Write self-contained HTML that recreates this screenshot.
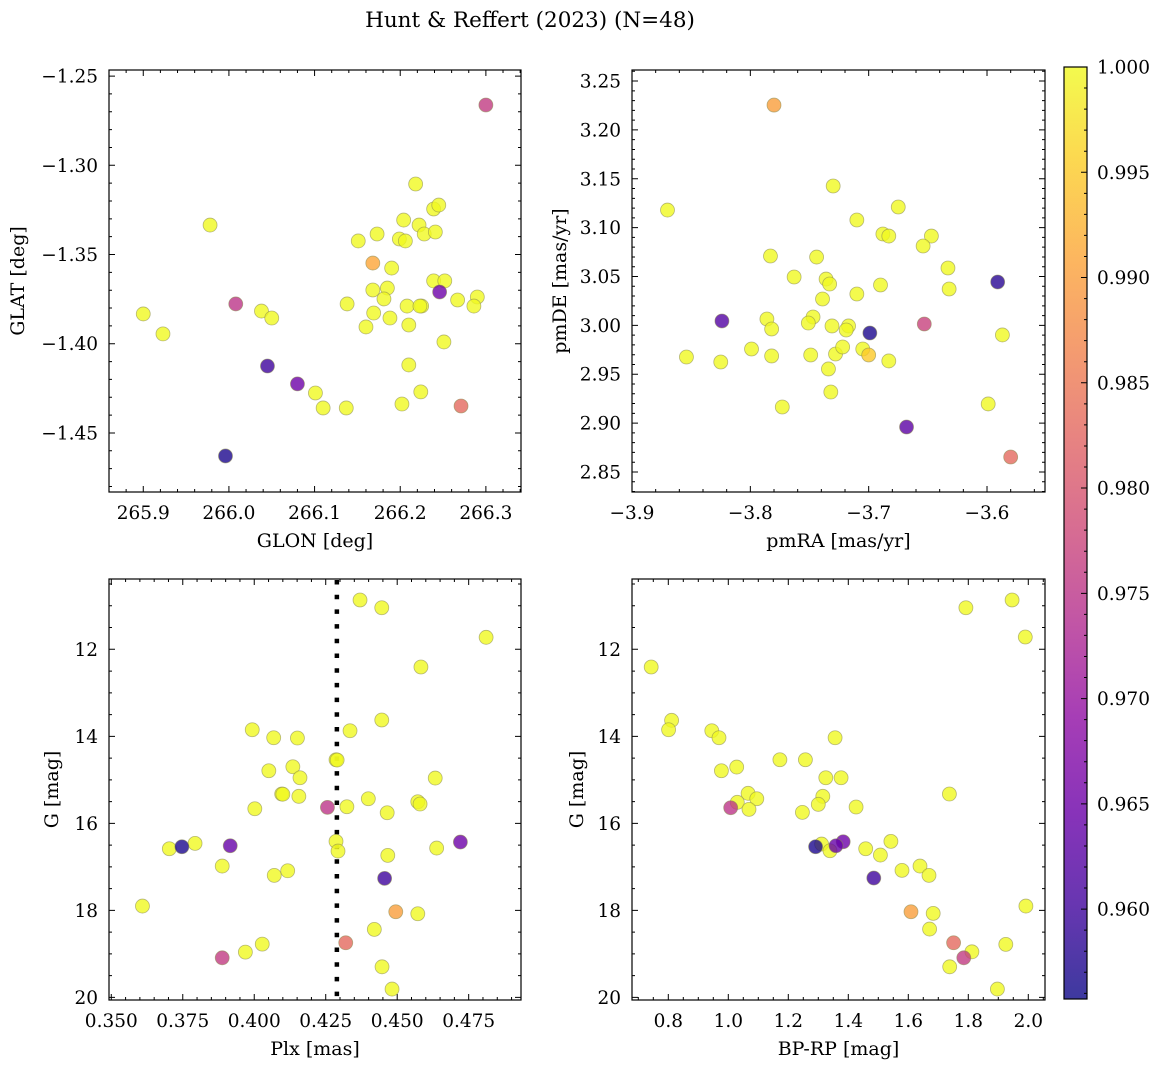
<!DOCTYPE html>
<html><head><meta charset="utf-8"><style>
body{margin:0;background:#fff}
svg{display:block;font-family:"DejaVu Serif","Liberation Serif",serif}
</style></head><body>
<svg id="fig" width="1161" height="1067" xmlns="http://www.w3.org/2000/svg">
<defs>
<linearGradient id="cbg" x1="0" y1="1" x2="0" y2="0">
<stop offset="0" stop-color="#0d0887"/><stop offset="0.1" stop-color="#41049d"/><stop offset="0.2" stop-color="#6a00a8"/><stop offset="0.3" stop-color="#8f0da4"/><stop offset="0.4" stop-color="#b12a90"/><stop offset="0.5" stop-color="#cc4778"/><stop offset="0.6" stop-color="#e16462"/><stop offset="0.7" stop-color="#f2844b"/><stop offset="0.8" stop-color="#fca636"/><stop offset="0.9" stop-color="#fcce25"/><stop offset="1" stop-color="#f0f921"/>
</linearGradient>
</defs>
<text x="530" y="27" font-size="21.5" text-anchor="middle">Hunt &amp; Reffert (2023) (N=48)</text>
</svg>
<script>
// Panel 1: sky position
const glon=[266.218,266.239,266.245,266.204,266.222,266.228,266.241,266.173,266.151,266.199,266.206,266.168,266.190,266.239,266.252,266.246,266.185,266.168,266.181,266.267,266.290,266.286,266.138,266.208,266.225,266.169,266.188,266.160,266.210,266.251,266.300,265.900,265.923,265.978,266.008,266.038,266.050,266.045,266.080,266.210,266.224,266.202,266.101,266.110,266.137,266.271,265.996,266.223];
const glat=[-1.3105,-1.3245,-1.3223,-1.3307,-1.3335,-1.3385,-1.3374,-1.3385,-1.3424,-1.3413,-1.3424,-1.3548,-1.3576,-1.3648,-1.3648,-1.3710,-1.3688,-1.3699,-1.3749,-1.3755,-1.3738,-1.3789,-1.3777,-1.3789,-1.3789,-1.3828,-1.3856,-1.3906,-1.3895,-1.3990,-1.2662,-1.3833,-1.3945,-1.3335,-1.3777,-1.3817,-1.3856,-1.4125,-1.4225,-1.4119,-1.4270,-1.4338,-1.4276,-1.4360,-1.4360,-1.4349,-1.4629,-1.3789];
const probSky=[1,1,1,1,1,1,1,1,1,1,1,0.991,1,1,1,0.965,1,1,1,1,1,1,1,1,1,1,1,1,1,1,0.976,1,1,1,0.975,1,1,0.960,0.965,1,1,1,1,1,1,0.983,0.957,1];
// Panel 2: proper motion
const pmra=[-3.688,-3.683,-3.647,-3.654,-3.783,-3.744,-3.763,-3.736,-3.733,-3.690,-3.710,-3.739,-3.786,-3.782,-3.747,-3.751,-3.731,-3.717,-3.719,-3.699,-3.653,-3.799,-3.782,-3.749,-3.728,-3.722,-3.705,-3.700,-3.683,-3.734,-3.732,-3.773,-3.780,-3.870,-3.730,-3.675,-3.710,-3.633,-3.632,-3.591,-3.824,-3.587,-3.854,-3.825,-3.599,-3.668,-3.580];
const pmde=[3.0935,3.0914,3.0914,3.0812,3.0710,3.0699,3.0495,3.0474,3.0423,3.0413,3.0321,3.0270,3.0065,2.9963,3.0086,3.0024,2.9994,2.9994,2.9953,2.9922,3.0014,2.9758,2.9687,2.9697,2.9707,2.9779,2.9758,2.9697,2.9636,2.9554,2.9318,2.9165,3.2254,3.1180,3.1426,3.1211,3.1078,3.0587,3.0372,3.0444,3.0045,2.9902,2.9676,2.9625,2.9196,2.8960,2.8653];
const probPm=[1,1,1,1,1,1,1,1,1,1,1,1,1,1,1,1,1,1,1,0.957,0.977,1,1,1,1,1,1,0.995,1,1,1,1,0.990,1,1,1,1,1,1,0.958,0.962,1,1,1,1,0.963,0.983];
// Panel 3: parallax vs G
const plx=[0.4370,0.4446,0.4811,0.4583,0.4446,0.4335,0.3993,0.4068,0.4151,0.4286,0.4290,0.4051,0.4135,0.4160,0.4633,0.4096,0.4100,0.4156,0.4002,0.4256,0.4324,0.4399,0.4572,0.4580,0.4465,0.3703,0.3747,0.3793,0.3916,0.4286,0.4293,0.4467,0.4638,0.4721,0.3888,0.4070,0.4117,0.4456,0.3609,0.4495,0.4572,0.4420,0.4320,0.4028,0.3969,0.3888,0.4447,0.4482];
const gmag=[10.867,11.044,11.724,12.407,13.625,13.871,13.848,14.032,14.039,14.538,14.545,14.791,14.699,14.952,14.959,15.326,15.330,15.379,15.664,15.632,15.618,15.434,15.503,15.556,15.756,16.584,16.538,16.460,16.515,16.414,16.637,16.736,16.568,16.430,16.982,17.195,17.090,17.264,17.901,18.032,18.078,18.437,18.745,18.775,18.959,19.090,19.297,19.809];
const probPlx=[1,1,1,1,1,1,1,1,1,1,1,1,1,1,1,1,1,1,1,0.975,1,1,1,1,1,1,0.957,1,0.964,1,1,1,1,0.965,1,1,1,0.960,1,0.990,1,1,0.983,1,1,0.976,1,1];
const plxCut=[0.4289];
// Panel 4: colour-magnitude
const bprp=[1.792,1.946,1.990,0.743,0.811,0.801,0.945,0.969,1.356,1.172,1.257,0.977,1.028,1.325,1.376,1.737,1.066,1.095,1.030,1.069,1.008,1.315,1.300,1.247,1.426,1.291,1.311,1.339,1.359,1.383,1.458,1.507,1.542,1.485,1.579,1.639,1.669,1.992,1.609,1.683,1.671,1.751,1.925,1.812,1.785,1.738,1.897];
const gcmd=[11.044,10.867,11.717,12.407,13.632,13.848,13.871,14.032,14.032,14.538,14.538,14.791,14.706,14.952,14.952,15.326,15.310,15.434,15.517,15.678,15.641,15.379,15.563,15.747,15.625,16.538,16.476,16.630,16.515,16.423,16.584,16.729,16.414,17.257,17.080,16.982,17.195,17.901,18.032,18.069,18.430,18.745,18.782,18.952,19.090,19.297,19.809];
const probCmd=[1,1,1,1,1,1,1,1,1,1,1,1,1,1,1,1,1,1,1,1,0.975,1,1,1,1,0.957,1,1,0.964,0.965,1,1,1,0.960,1,1,1,1,0.990,1,1,0.983,1,1,0.976,1,1];
// tick labels
const xt1=[265.9,266.0,266.1,266.2,266.3], xt1L=["265.9","266.0","266.1","266.2","266.3"];
const yt1=[-1.25,-1.30,-1.35,-1.40,-1.45], yt1L=["\u22121.25","\u22121.30","\u22121.35","\u22121.40","\u22121.45"];
const xt2=[-3.9,-3.8,-3.7,-3.6], xt2L=["\u22123.9","\u22123.8","\u22123.7","\u22123.6"];
const yt2=[2.85,2.90,2.95,3.00,3.05,3.10,3.15,3.20,3.25], yt2L=["2.85","2.90","2.95","3.00","3.05","3.10","3.15","3.20","3.25"];
const xt3=[0.350,0.375,0.400,0.425,0.450,0.475], xt3L=["0.350","0.375","0.400","0.425","0.450","0.475"];
const ytG=[12,14,16,18,20], ytGL=["12","14","16","18","20"];
const xt4=[0.8,1.0,1.2,1.4,1.6,1.8,2.0], xt4L=["0.8","1.0","1.2","1.4","1.6","1.8","2.0"];
const cbt=[0.960,0.965,0.970,0.975,0.980,0.985,0.990,0.995,1.000], cbtL=["0.960","0.965","0.970","0.975","0.980","0.985","0.990","0.995","1.000"];
const cbMin=0.95573, cbMax=1.0;

const NS="http://www.w3.org/2000/svg";
const svg=document.getElementById('fig');
const FS=18.5, LFS=19;
function mk(tag,attrs,parent){const e=document.createElementNS(NS,tag);for(const k in attrs)e.setAttribute(k,attrs[k]);(parent||svg).appendChild(e);return e;}
const stops=[[13,8,135],[65,4,157],[106,0,168],[143,13,164],[177,42,144],[204,71,120],[225,100,98],[242,132,75],[252,166,54],[252,206,37],[240,249,33]];
function plasma(v){let t=(v-cbMin)/(cbMax-cbMin);t=Math.max(0,Math.min(1,t))*10;const i=Math.min(9,Math.floor(t)),f=t-i;const a=stops[i],b=stops[i+1];return `rgb(${a.map((c,k)=>Math.round(c+(b[k]-c)*f)).join(',')})`;}

function panel(cfg){
  const {x0,y0,x1,y1,xmin,xmax,ymin,ymax}=cfg;
  const ylo=Math.min(ymin,ymax), yhi=Math.max(ymin,ymax);
  const sx=v=>x0+(v-xmin)/(xmax-xmin)*(x1-x0);
  const sy=v=>y1-(v-ymin)/(ymax-ymin)*(y1-y0);
  const g=mk('g',{});
  
  
  const mx=mk('path',{stroke:'#000','stroke-width':1,fill:'none'},g);
  
  
  let d='';
  const eps=1e-9;
  const st=cfg.xminor;
  for(let v=Math.ceil(xmin/st)*st; v<=xmax+eps; v+=st){const p=sx(v);const maj=cfg.xt.some(t=>Math.abs(t-v)<st/3);const L=maj?6:3;d+=`M${p},${y1}v${-L}M${p},${y0}v${L}`;}
  const sty=cfg.yminor;
  for(let v=Math.ceil(ylo/sty)*sty; v<=yhi+eps; v+=sty){const p=sy(v);const maj=cfg.yt.some(t=>Math.abs(t-v)<sty/3);const L=maj?6:3;d+=`M${x0},${p}h${L}M${x1},${p}h${-L}`;}
  mx.setAttribute('d',d);
  cfg.xt.forEach((v,i)=>{if(v<xmin-eps||v>xmax+eps)return;const t=mk('text',{x:sx(v),y:y1+27,'font-size':FS,'text-anchor':'middle'},g);t.textContent=cfg.xtL[i];
    
    });
  cfg.yt.forEach((v,i)=>{if(v<ylo-eps||v>yhi+eps)return;const t=mk('text',{x:x0-11,y:sy(v)+6.5,'font-size':FS,'text-anchor':'end'},g);t.textContent=cfg.ytL[i];
    
    });
  const xl=mk('text',{x:(x0+x1)/2,y:y1+55,'font-size':LFS,'text-anchor':'middle'},g);xl.textContent=cfg.xlabel;
  
  
  const yx=cfg.ylx, yc=(y0+y1)/2;
  const yl=mk('text',{x:yx,y:yc,'font-size':LFS,'text-anchor':'middle',transform:`rotate(-90 ${yx} ${yc})`},g);yl.textContent=cfg.ylabel;
  
  
  if(cfg.vline){const ln=mk('line',{x1:sx(cfg.vline[0]),x2:sx(cfg.vline[0]),y1:y0+1,y2:y1,stroke:'#000','stroke-width':4.5,'stroke-dasharray':'4.5 10.2'},g);
    
    }
  const idx=cfg.xs.map((_,i)=>i).sort((a,b)=>cfg.ps[b]-cfg.ps[a]);
  idx.forEach(i=>{const c=mk('circle',{cx:sx(cfg.xs[i]),cy:sy(cfg.ys[i]),r:7,fill:plasma(cfg.ps[i]),'fill-opacity':0.8,stroke:'#8a8a50','stroke-opacity':0.6,'stroke-width':0.8},g);
    
    });
  const fr=mk('rect',{x:x0,y:y0,width:x1-x0,height:y1-y0,fill:'none',stroke:'#000','stroke-width':1.2},g);
  
  
}
panel({name:'sky-position-panel',x0:109,y0:70,x1:521,y1:492,xmin:265.860,xmax:266.341,ymin:-1.4831,ymax:-1.2466,xs:glon,ys:glat,ps:probSky,xt:xt1,xtL:xt1L,yt:yt1,ytL:yt1L,xminor:0.02,yminor:0.01,xlabel:'GLON [deg]',ylabel:'GLAT [deg]',ylx:24});
panel({name:'proper-motion-panel',x0:632,y0:70,x1:1045,y1:492,xmin:-3.9,xmax:-3.551,ymin:2.8295,ymax:3.2613,xs:pmra,ys:pmde,ps:probPm,xt:xt2,xtL:xt2L,yt:yt2,ytL:yt2L,xminor:0.02,yminor:0.01,xlabel:'pmRA [mas/yr]',ylabel:'pmDE [mas/yr]',ylx:566});
panel({name:'parallax-panel',x0:109,y0:579,x1:521,y1:1000,xmin:0.3492,xmax:0.4933,ymin:20.06,ymax:10.384,xs:plx,ys:gmag,ps:probPlx,xt:xt3,xtL:xt3L,yt:ytG,ytL:ytGL,xminor:0.005,yminor:0.5,xlabel:'Plx [mas]',ylabel:'G [mag]',ylx:58,vline:plxCut});
panel({name:'cmd-panel',x0:632,y0:579,x1:1045,y1:1000,xmin:0.679,xmax:2.0557,ymin:20.06,ymax:10.384,xs:bprp,ys:gcmd,ps:probCmd,xt:xt4,xtL:xt4L,yt:ytG,ytL:ytGL,xminor:0.05,yminor:0.5,xlabel:'BP-RP [mag]',ylabel:'G [mag]',ylx:583});
(function(){
  const x0=1064,x1=1087,y0=67,y1=999;
  const g=mk('g',{});
  
  
  mk('rect',{x:x0,y:y0,width:x1-x0,height:y1-y0,fill:'url(#cbg)','fill-opacity':0.8},g);
  const sy=v=>y1-(v-cbMin)/(cbMax-cbMin)*(y1-y0);
  let d='';
  for(let v=0.956;v<=1.00001;v+=0.001){const p=sy(v);const maj=cbt.some(t=>Math.abs(t-v)<0.0003);d+=`M${x1},${p}h${maj?-6:-3}`;}
  const tk=mk('path',{d:d,stroke:'#000','stroke-width':1},g);
  
  
  cbt.forEach((v,i)=>{const t=mk('text',{x:x1+10,y:sy(v)+6.5,'font-size':FS},g);t.textContent=cbtL[i];
    
    });
  mk('rect',{x:x0,y:y0,width:x1-x0,height:y1-y0,fill:'none',stroke:'#000','stroke-width':1.2},g);
})();
</script>
</body></html>
